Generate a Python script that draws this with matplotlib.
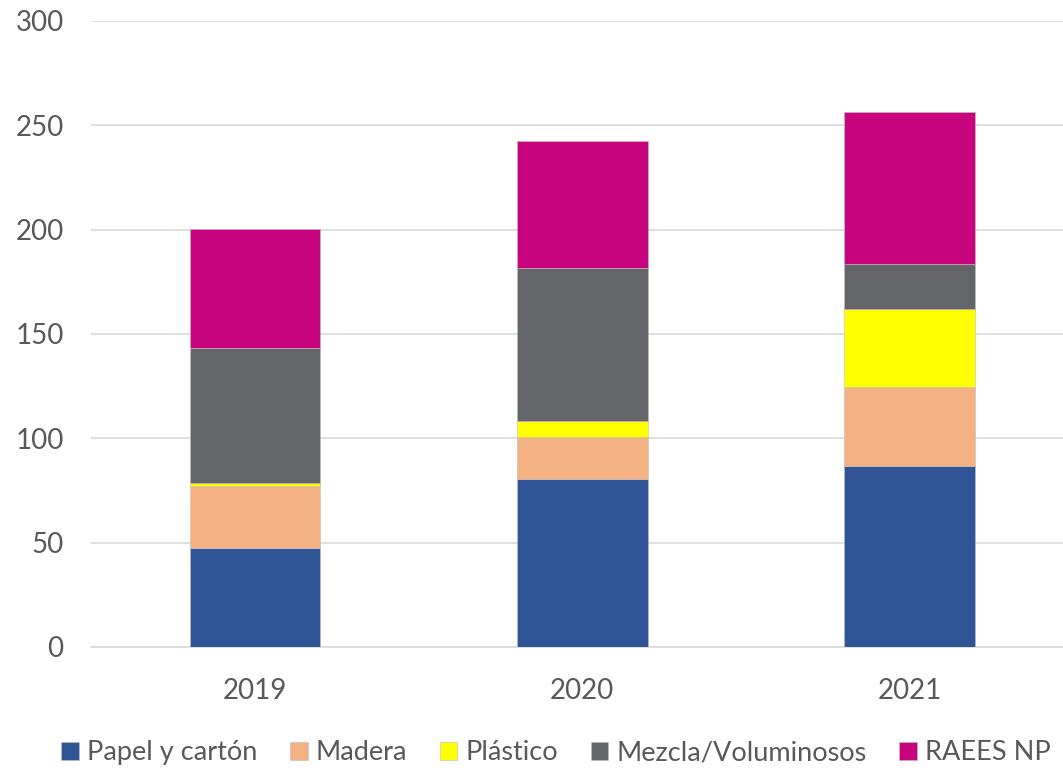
import numpy as np
import matplotlib.pyplot as plt

years = ['2019', '2020', '2021']
series = ['Papel y cartón', 'Madera', 'Plástico', 'Mezcla/Voluminosos', 'RAEES NP']
papel = [47.4, 80.5, 86.7]
madera = [29.8, 20.0, 37.9]
plastico = [1.3, 7.7, 37.5]
mezcla = [64.8, 73.4, 21.2]
raees = [57.0, 61.0, 73.2]
colors = ['#2F5597', '#F4B183', '#FFFF00', '#646569', '#C8037E']

plt.rcParams['font.family'] = ['Lato', 'DejaVu Sans']
txt = '#595959'

fig = plt.figure(figsize=(10.63, 7.68), dpi=100)
ax = fig.add_axes([0.086, 0.1576, 0.9235, 0.8151])

x = np.arange(len(years))
bottom = np.zeros(len(years))
for vals, name, c in zip([papel, madera, plastico, mezcla, raees], series, colors):
    ax.bar(x, vals, 0.4, bottom=bottom, color=c, label=name,
           edgecolor='#BFBFBF', linewidth=0.4, zorder=3)
    bottom += np.array(vals)

ax.set_xlim(-0.5, 2.5)
ax.set_ylim(0, 300)
ax.set_yticks(range(0, 301, 50))
ax.set_xticks(x)
ax.set_xticklabels(years)
ax.yaxis.grid(True, color='#D9D9D9', linewidth=1.2, zorder=0)
for s in ['top', 'right', 'left']:
    ax.spines[s].set_visible(False)
ax.spines['bottom'].set_color('#D9D9D9')
ax.spines['bottom'].set_linewidth(1.2)
ax.tick_params(axis='both', length=0, labelsize=20, colors=txt)
ax.tick_params(axis='y', pad=20)
ax.tick_params(axis='x', pad=22)

leg = fig.legend(loc='lower center', bbox_to_anchor=(0.523, -0.028), ncol=5,
                 frameon=False, fontsize=19.5, handlelength=0.65, handleheight=0.65,
                 handletextpad=0.3, columnspacing=1.2)
for t in leg.get_texts():
    t.set_color(txt)

fig.savefig('out.png', dpi=100)
